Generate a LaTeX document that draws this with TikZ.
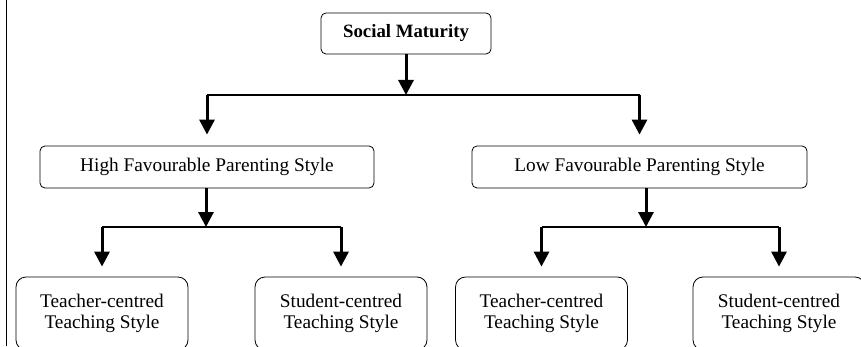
\documentclass[tikz,border=0pt]{standalone}
\usepackage{fontspec}
\setmainfont{Liberation Serif}
\usetikzlibrary{arrows.meta,positioning}

\begin{document}
\begin{tikzpicture}[x=1pt,y=1pt,
    font=\fontsize{19.3}{21}\selectfont,
    topbox/.style={draw, rounded corners=5pt, line width=0.8pt, minimum height=42pt, inner sep=0pt},
    leafbox/.style={draw, rounded corners=10pt, line width=0.8pt, minimum width=172pt,
      minimum height=73pt, align=center, inner sep=0pt},
    down/.style={-{Triangle[width=15pt,length=15pt]}, line width=3pt},
    bar/.style={line width=1.1pt}]
	\useasboundingbox (0,0) rectangle (861,346);
	\clip (0,0) rectangle (861,346);
	\draw[line width=0.8pt] (6,0) -- (6,346);

	% boxes
	\node[topbox, minimum width=170pt, minimum height=41pt, font=\fontsize{18.8}{21}\selectfont\bfseries] (social) at (406,312.5) {Social Maturity};
	\node[topbox, minimum width=334pt] (high) at (207,179) {High Favourable Parenting Style};
	\node[topbox, minimum width=335pt] (low) at (639.5,179) {Low Favourable Parenting Style};
	\node[leafbox] (teachhigh) at (102,32.5) {Teacher-centred\\Teaching Style};
	\node[leafbox] (studhigh) at (341,32.5) {Student-centred\\Teaching Style};
	\node[leafbox] (teachlow) at (541.5,32.5) {Teacher-centred\\Teaching Style};
	\node[leafbox] (studlow) at (779,32.5) {Student-centred\\Teaching Style};

	% first split
	\coordinate (split1) at (406,251);
	\coordinate (highbar) at (high.north |- split1);
	\coordinate (lowbar) at (low.north |- split1);
	\draw[down] (social) to (split1);
	\draw[bar] (highbar) to (lowbar);
	\draw[down, shorten >=11pt] (highbar) to (high.north);
	\draw[down, shorten >=11pt] (lowbar) to (low.north);

	% second split
	\coordinate (split2) at (206,119);
	\coordinate (split3) at (646,119);
	\coordinate (teachhighbar) at (teachhigh.north |- split2);
	\coordinate (studhighbar) at (studhigh.north |- split2);
	\coordinate (teachlowbar) at (teachlow.north |- split3);
	\coordinate (studlowbar) at (studlow.north |- split3);
	\draw[down] (high.south -| split2) to (split2);
	\draw[down] (low.south -| split3) to (split3);
	\draw[bar] (teachhighbar) to (studhighbar);
	\draw[bar] (teachlowbar) to (studlowbar);
	\draw[down, shorten >=10pt] (teachhighbar) to (teachhigh.north);
	\draw[down, shorten >=10pt] (studhighbar) to (studhigh.north);
	\draw[down, shorten >=10pt] (teachlowbar) to (teachlow.north);
	\draw[down, shorten >=10pt] (studlowbar) to (studlow.north);
\end{tikzpicture}
\end{document}
